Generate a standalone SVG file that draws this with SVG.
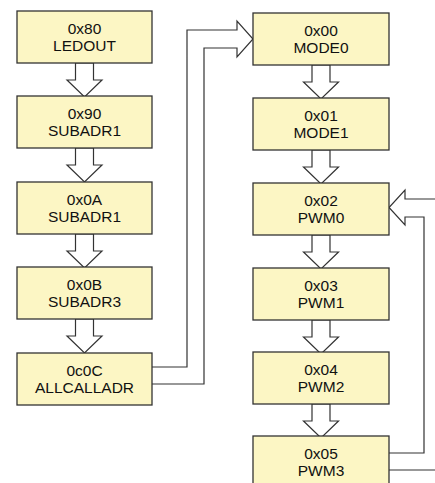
<svg xmlns="http://www.w3.org/2000/svg" width="435" height="483" viewBox="0 0 435 483">
<style>
.box{fill:#FCF6C4;stroke:#333;stroke-width:1.3}
.t{font-family:"Liberation Sans",Arial,sans-serif;font-size:15.5px;fill:#111;text-anchor:middle}
.ba{fill:#fff;stroke:#333;stroke-width:1.2;stroke-linejoin:miter}
.cn{fill:none;stroke:#333;stroke-width:1.2;stroke-linejoin:miter}
</style>
<defs>
<path id="dn" d="M-9,0 V17 H-17.5 L0,34 L17.5,17 H9 V0 Z"/>
</defs>
<g id="connectors">
<use href="#dn" class="ba" x="84.5" y="63"/>
<use href="#dn" class="ba" x="84.5" y="148"/>
<use href="#dn" class="ba" x="84.5" y="234"/>
<use href="#dn" class="ba" x="84.5" y="319"/>
<use href="#dn" class="ba" x="321" y="65"/>
<use href="#dn" class="ba" x="321" y="150"/>
<use href="#dn" class="ba" x="321" y="235"/>
<use href="#dn" class="ba" x="321" y="320"/>
<use href="#dn" class="ba" x="321" y="404"/>
<path class="cn" d="M152,367 H187 V30 H237 V21 L253,39 L237,57 V48 H204 V384 H152"/>
<path class="cn" d="M389,470 H445 V199 H405 V190 L389,207.5 L405,225 V217 H424 V453 H389"/>
</g>
<g id="n-ledout"><rect class="box" x="17" y="11" width="135" height="52"/><text class="t" x="84.5" y="34">0x80</text><text class="t" x="84.5" y="51">LEDOUT</text></g>
<g id="n-subadr1a"><rect class="box" x="17" y="96" width="135" height="52"/><text class="t" x="84.5" y="119">0x90</text><text class="t" x="84.5" y="136">SUBADR1</text></g>
<g id="n-subadr1b"><rect class="box" x="17" y="182" width="135" height="52"/><text class="t" x="84.5" y="205">0x0A</text><text class="t" x="84.5" y="222">SUBADR1</text></g>
<g id="n-subadr3"><rect class="box" x="17" y="267" width="135" height="52"/><text class="t" x="84.5" y="290">0x0B</text><text class="t" x="84.5" y="307">SUBADR3</text></g>
<g id="n-allcall"><rect class="box" x="17" y="353" width="135" height="52"/><text class="t" x="84.5" y="376">0c0C</text><text class="t" x="84.5" y="393">ALLCALLADR</text></g>
<g id="n-mode0"><rect class="box" x="253" y="13" width="136" height="52"/><text class="t" x="321" y="36">0x00</text><text class="t" x="321" y="53">MODE0</text></g>
<g id="n-mode1"><rect class="box" x="253" y="98" width="136" height="52"/><text class="t" x="321" y="121">0x01</text><text class="t" x="321" y="138">MODE1</text></g>
<g id="n-pwm0"><rect class="box" x="253" y="183" width="136" height="52"/><text class="t" x="321" y="206">0x02</text><text class="t" x="321" y="223">PWM0</text></g>
<g id="n-pwm1"><rect class="box" x="253" y="268" width="136" height="52"/><text class="t" x="321" y="291">0x03</text><text class="t" x="321" y="308">PWM1</text></g>
<g id="n-pwm2"><rect class="box" x="253" y="352" width="136" height="52"/><text class="t" x="321" y="375">0x04</text><text class="t" x="321" y="392">PWM2</text></g>
<g id="n-pwm3"><rect class="box" x="253" y="436" width="136" height="52"/><text class="t" x="321" y="459">0x05</text><text class="t" x="321" y="476">PWM3</text></g>
</svg>
